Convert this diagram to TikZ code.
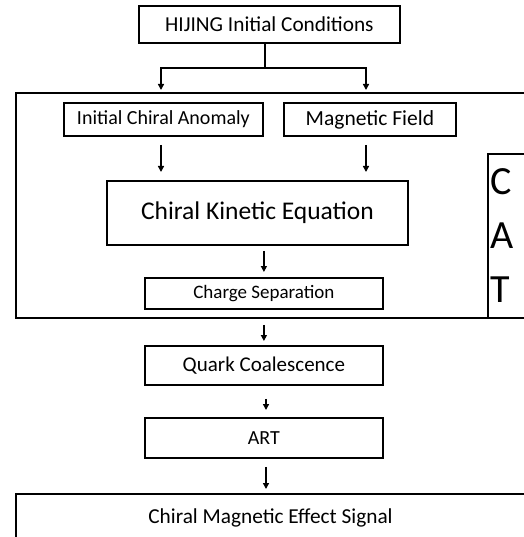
\documentclass[tikz,border=0pt]{standalone}
\usepackage{fontspec}
\setmainfont{Carlito}
\usetikzlibrary{arrows.meta}
\begin{document}
\begin{tikzpicture}[x=1pt,y=-1pt,
  box/.style={draw, line width=1.8pt, inner sep=0pt, anchor=north west},
  arr/.style={line width=1.4pt, -{Triangle[length=6pt,width=6pt]}},
  ln/.style={line width=1.4pt}]
\useasboundingbox (0,0) rectangle (523,537);
% outer frame for the CAT part
\node[box, minimum width=560pt, minimum height=225pt] (frame) at (15,92) {};
\node[box, minimum width=80pt, minimum height=164pt, align=left, text width=74pt, inner xsep=3pt,
  font=\fontsize{40}{54}\selectfont] (cat) at (487,153) {C\\A\\T};
\node[box, minimum width=261pt, minimum height=37pt, font=\fontsize{21.3}{24}\selectfont] (hijing) at (138,5) {HIJING Initial Conditions};
\node[box, minimum width=199pt, minimum height=33pt, font=\fontsize{20}{24}\selectfont] (ica) at (63,102) {Initial Chiral Anomaly};
\node[box, minimum width=172pt, minimum height=33pt, font=\fontsize{21.5}{24}\selectfont] (mf) at (283,102) {Magnetic Field};
\node[box, minimum width=301pt, minimum height=64pt, font=\fontsize{25.5}{30}\selectfont] (cke) at (106,180) {Chiral Kinetic Equation};
\node[box, minimum width=238pt, minimum height=31pt, font=\fontsize{19}{22}\selectfont] (cs) at (144,277) {Charge Separation};
\node[box, minimum width=238pt, minimum height=39pt, font=\fontsize{21}{24}\selectfont] (qc) at (144,345) {Quark Coalescence};
\node[box, minimum width=238pt, minimum height=40pt, font=\fontsize{20}{24}\selectfont] (art) at (144,417) {ART};
\node[box, minimum width=560pt, minimum height=60pt] (cme) at (15,493) {};
\node[font=\fontsize{21.3}{24}\selectfont, inner sep=0pt] (cmetext) at (270.5,518) {Chiral Magnetic Effect Signal};
% connectors
\coordinate (split) at (265,68);
\coordinate (l) at (161,90);
\coordinate (r) at (366,90);
\coordinate (lo) at (266,0);
\draw[ln] (hijing.south -| split) -- (split);
\draw[arr] (split) -| (l);
\draw[arr] (split) -| (r);
\draw[arr, shorten <=8pt, shorten >=8pt] (ica.south -| l) -- (cke.north -| l);
\draw[arr, shorten <=8pt, shorten >=8pt] (mf.south -| r) -- (cke.north -| r);
\draw[arr, shorten <=5pt, shorten >=5pt] (cke.south -| cs.north) -- (cs.north);
\draw[arr, shorten <=15pt, shorten >=4pt] (cs.south) -- (qc.north);
\draw[arr, shorten <=13pt, shorten >=7pt] (qc.south -| lo) -- (art.north -| lo);
\draw[arr, shorten <=8pt, shorten >=4pt] (art.south -| lo) -- (cme.north -| lo);
\end{tikzpicture}
\end{document}
